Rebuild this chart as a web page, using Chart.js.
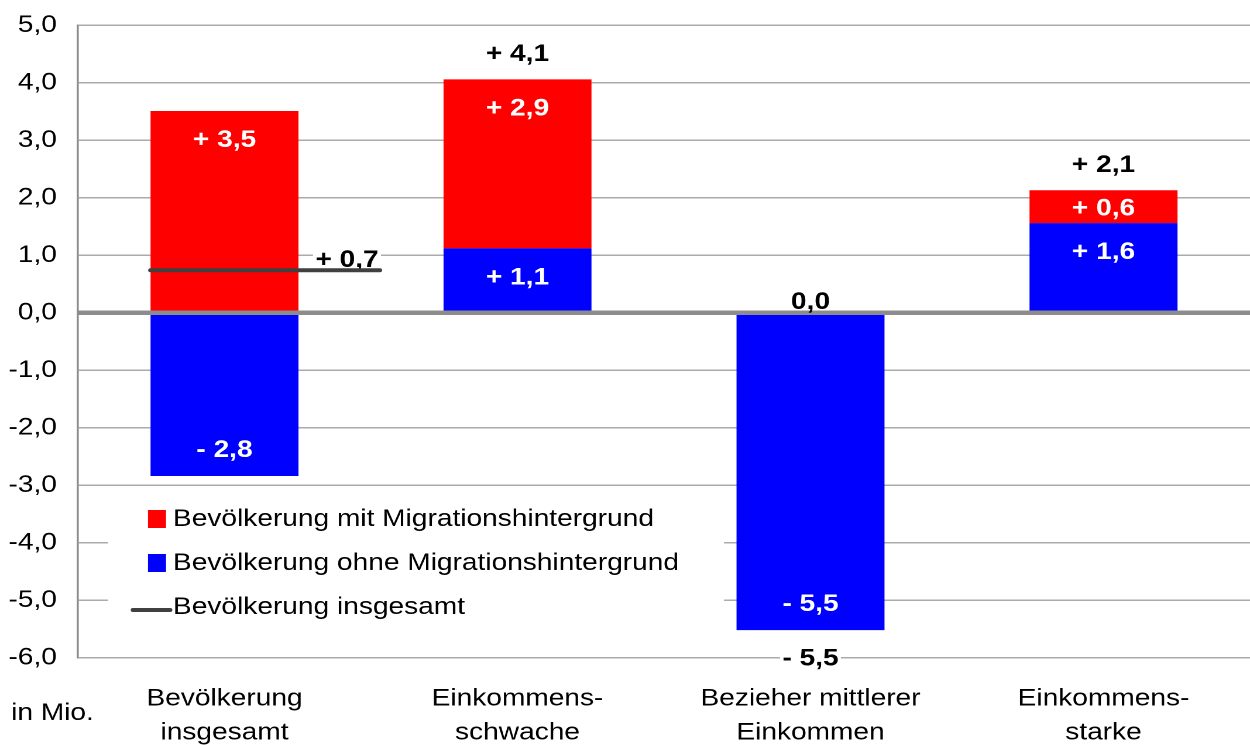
<!DOCTYPE html>
<html>
<head>
<meta charset="utf-8">
<script src="https://cdn.jsdelivr.net/npm/chart.js@4.4.1/dist/chart.umd.min.js"></script>
<style>
  html, body { margin: 0; padding: 0; background: #fff; overflow: hidden; }
  #wrap { width: 1068px; height: 746px; transform: scaleX(1.17041); transform-origin: 0 0; }
</style>
</head>
<body>
<div id="wrap"><canvas id="c" width="1068" height="746"></canvas></div>
<script>
// ---------- data ----------
const categories = [
  ['Bevölkerung', 'insgesamt'],
  ['Einkommens-', 'schwache'],
  ['Bezieher mittlerer', 'Einkommen'],
  ['Einkommens-', 'starke']
];
const seriesNames = [
  'Bevölkerung mit Migrationshintergrund',
  'Bevölkerung ohne Migrationshintergrund',
  'Bevölkerung insgesamt'
];
const mitMigration  = [3.51, 2.94, 0.0, 0.57];
const ohneMigration = [-2.84, 1.12, -5.52, 1.56];
const insgesamt     = [0.74, 4.06, -5.52, 2.13];
const yMin = -6, yMax = 5, yStep = 1;
const unitLabel = 'in Mio.';

// ---------- style ----------
const SX = 1250 / 1068;               // horizontal stretch of the reference
const RED = '#ff0000', BLUE = '#0000ff', LINE = '#404040';
const FONT = "'Liberation Sans', Arial, sans-serif";
const GRID = '#ababab', AXIS = '#8c8c8c';
const BAR_PCT = 0.505;
const LINE_FROM = -BAR_PCT / 2, LINE_TO = 0.53;   // extent of the total line around category 0

const fmt = v => {
  const s = Math.abs(v).toFixed(1).replace('.', ',');
  if (Math.round(v * 10) === 0) return s;
  return (v > 0 ? '+ ' : '- ') + s;
};

function boxText(ctx, text, x, baseline, align, bg) {
  ctx.font = 'bold 24px ' + FONT;
  ctx.textAlign = align;
  ctx.textBaseline = 'alphabetic';
  if (bg) {
    const w = ctx.measureText(text).width;
    const left = align === 'center' ? x - w / 2 : (align === 'right' ? x - w : x);
    ctx.fillStyle = '#fff';
    ctx.fillRect(left - 2, baseline - 20, w + 4, 22);
  }
  ctx.fillStyle = '#000';
  ctx.fillText(text, x, baseline);
}

const plugin = {
  id: 'decor',
  beforeDatasetsDraw(chart) {
    const { ctx } = chart;
    const y = chart.scales.y;
    ctx.save();
    // legend background (hides the grid lines)
    ctx.fillStyle = '#fff';
    ctx.fillRect(108 / SX, 491, (724 - 108) / SX, 159);
    // total labels (black, with white background)
    const barMeta = chart.getDatasetMeta(0);
    for (let i = 1; i < insgesamt.length; i++) {
      const x = barMeta.data[i].x;
      const p = y.getPixelForValue(insgesamt[i]);
      const c = insgesamt[i] >= 0 ? p - 27 : p + 27;
      boxText(ctx, fmt(insgesamt[i]), x, c + 8.6, 'center', true);
    }
    // label of the total line
    const lm = chart.getDatasetMeta(2);
    const end = lm.data[lm.data.length - 1];
    boxText(ctx, fmt(insgesamt[0]), end.x - 1, end.y - 3, 'right', true);
    ctx.restore();
  },
  afterDatasetsDraw(chart) {
    const { ctx, chartArea } = chart;
    const y = chart.scales.y;
    const y0 = y.getPixelForValue(0);
    ctx.save();
    // zero line over the bars
    ctx.strokeStyle = AXIS;
    ctx.lineWidth = 4.5;
    ctx.beginPath();
    ctx.moveTo(chartArea.left - 1, y0);
    ctx.lineTo(chartArea.right, y0);
    ctx.stroke();
    // segment labels
    [0, 1].forEach(d => {
      const meta = chart.getDatasetMeta(d);
      const vals = chart.data.datasets[d].data;
      meta.data.forEach((el, i) => {
        const v = vals[i];
        ctx.font = 'bold 24px ' + FONT;
        ctx.textAlign = 'center';
        ctx.textBaseline = 'alphabetic';
        if (Math.round(v * 10) === 0) {
          ctx.fillStyle = '#000';
          ctx.fillText(fmt(v), el.x, y0 - 12.5 + 8.6);
          return;
        }
        const h = Math.abs(el.base - el.y);
        const off = Math.min(27.5, h / 2);
        const c = v > 0 ? el.y + off : el.y - off;
        ctx.fillStyle = '#fff';
        ctx.fillText(fmt(v), el.x, c + 8.6);
      });
    });
    ctx.restore();
  },
  afterDraw(chart) {
    const { ctx } = chart;
    ctx.save();
    // legend
    const items = [
      { name: seriesNames[0], color: RED, type: 'box' },
      { name: seriesNames[1], color: BLUE, type: 'box' },
      { name: seriesNames[2], color: LINE, type: 'line' }
    ];
    items.forEach((it, k) => {
      const cy = 519 + k * 44;
      if (it.type === 'box') {
        ctx.fillStyle = it.color;
        ctx.fillRect(148 / SX, cy - 9, 18 / SX, 18);
      } else {
        ctx.strokeStyle = it.color;
        ctx.lineWidth = 4;
        ctx.lineCap = 'round';
        ctx.beginPath();
        ctx.moveTo(133 / SX, cy + 3);
        ctx.lineTo(170 / SX, cy + 3);
        ctx.stroke();
      }
      ctx.font = '24px ' + FONT;
      ctx.textAlign = 'left';
      ctx.textBaseline = 'alphabetic';
      ctx.fillStyle = '#000';
      ctx.fillText(it.name, 173 / SX, cy + 7);
    });
    // unit label
    ctx.font = '24px ' + FONT;
    ctx.textAlign = 'center';
    ctx.fillStyle = '#000';
    ctx.fillText(unitLabel, 52.5 / SX, 720);
    ctx.restore();
  }
};

new Chart(document.getElementById('c'), {
  type: 'bar',
  data: {
    labels: categories,
    datasets: [
      { label: seriesNames[1], data: ohneMigration, backgroundColor: BLUE, xAxisID: 'x', yAxisID: 'y',
        stack: 'bars', order: 0, grouped: false, categoryPercentage: 1, barPercentage: BAR_PCT },
      { label: seriesNames[0], data: mitMigration, backgroundColor: RED, xAxisID: 'x', yAxisID: 'y',
        stack: 'bars', order: 0, grouped: false, categoryPercentage: 1, barPercentage: BAR_PCT },
      { type: 'line', label: seriesNames[2], xAxisID: 'xl', yAxisID: 'y', stack: 'line', order: -1,
        data: [{ x: LINE_FROM, y: insgesamt[0] }, { x: LINE_TO, y: insgesamt[0] }],
        borderColor: LINE, borderWidth: 4, borderCapStyle: 'round', pointRadius: 0, fill: false }
    ]
  },
  options: {
    responsive: false,
    devicePixelRatio: 2,
    animation: false,
    layout: { padding: { top: 25.3, right: 0, bottom: 0, left: 0 } },
    plugins: { legend: { display: false }, tooltip: { enabled: false } },
    scales: {
      x: {
        stacked: true,
        grid: { display: false },
        border: { display: false },
        ticks: { color: '#000', font: { family: FONT, size: 24, lineHeight: 34 / 24 }, padding: 16.3, maxRotation: 0, autoSkip: false },
        afterFit: s => { s.height = 746 - 657.7; s.paddingLeft = 0; s.paddingRight = 0; }
      },
      xl: { type: 'linear', display: false, min: -0.5, max: 3.5, offset: false },
      y: {
        stacked: true,
        min: yMin, max: yMax,
        ticks: { stepSize: yStep, color: '#000', font: { family: FONT, size: 24 }, padding: 18,
                 callback: v => v.toFixed(1).replace('.', ',') },
        grid: { color: GRID, lineWidth: c => (c.tick && c.tick.value === 0 ? 4.5 : 1.5), drawTicks: false },
        border: { display: true, color: AXIS, width: 1.8 },
        afterFit: s => { s.width = 78 / SX; s.paddingTop = 0; s.paddingBottom = 0; }
      }
    }
  },
  plugins: [plugin]
});
</script>
</body>
</html>
